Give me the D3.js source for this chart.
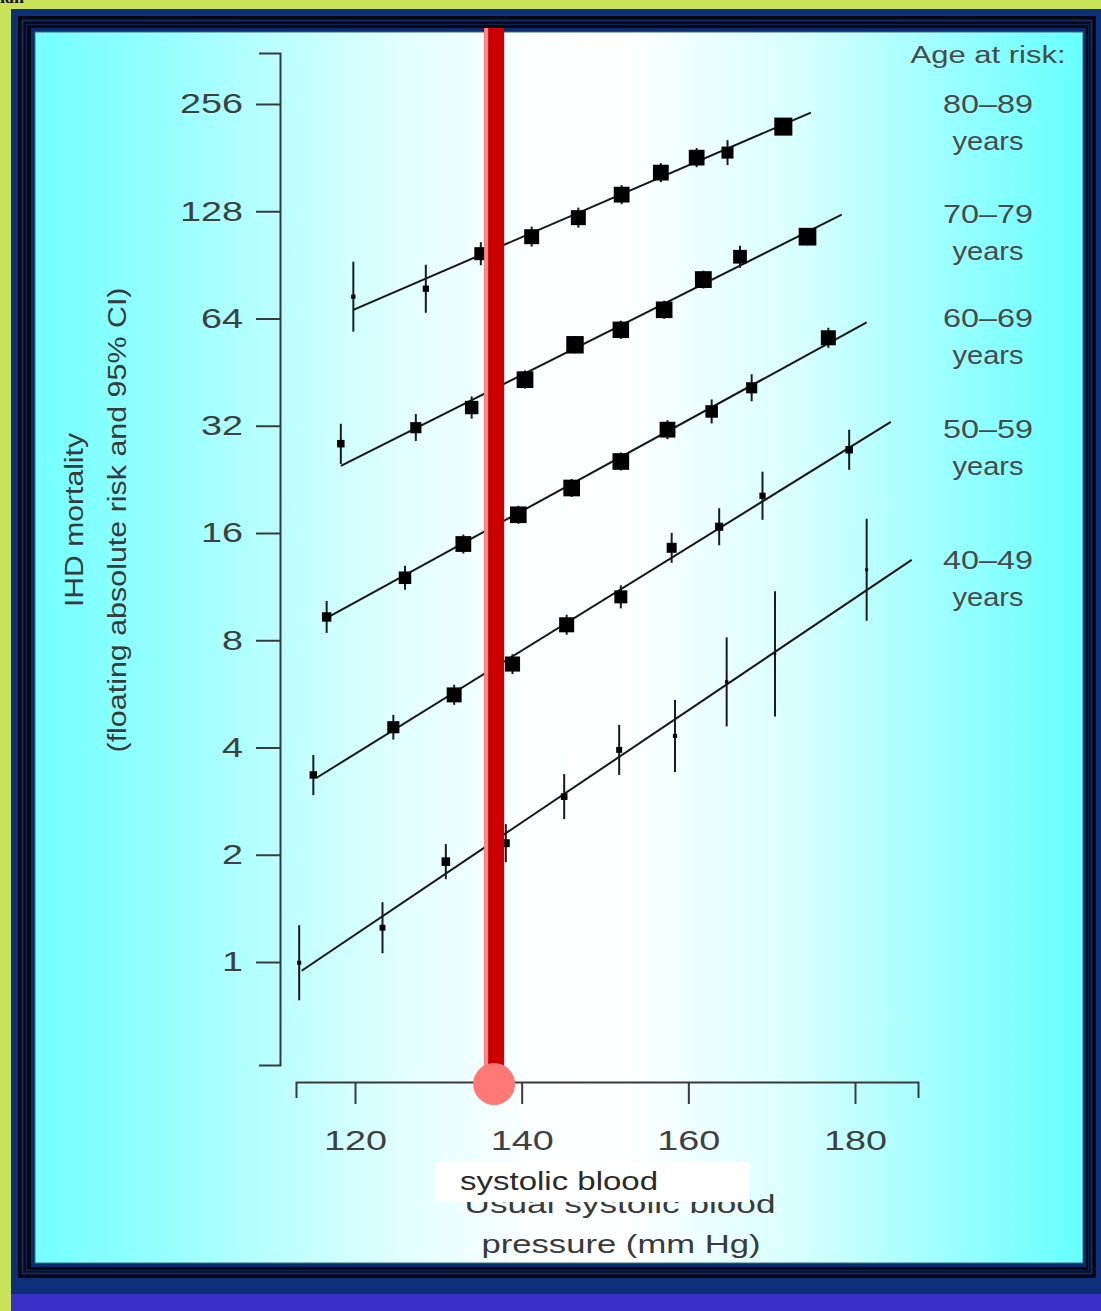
<!DOCTYPE html>
<html>
<head>
<meta charset="utf-8">
<script src="https://cdn.jsdelivr.net/npm/d3@7"></script>
<style>
  html, body { margin: 0; padding: 0; background: #c9e257; }
  svg { display: block; }
  text { font-family: "Liberation Sans", Arial, sans-serif; }
</style>
</head>
<body>
<div id="chart"></div>
<script>
// age groups, top to bottom
const ageGroups = ["80–89", "70–79", "60–69", "50–59", "40–49"];

// usual systolic blood pressure (mm Hg) of each point
const sbpByGroup = [
  [119.8, 128.5, 135.1, 141.2, 146.8, 152.0, 156.7, 161.0, 164.7, 171.4],
  [118.3, 127.3, 134.0, 140.4, 146.4, 151.9, 157.1, 161.8, 166.2, 174.3],
  [116.6, 126.0, 133.0, 139.6, 146.0, 151.9, 157.5, 162.8, 167.6, 176.8],
  [115.0, 124.6, 131.9, 138.9, 145.4, 151.9, 158.0, 163.7, 168.9, 179.3],
  [113.3, 123.3, 130.9, 138.1, 145.1, 151.7, 158.4, 164.6, 170.4, 181.4]
];

// IHD mortality (floating absolute risk)
const riskByGroup = [
  [73.7, 77.6, 97.3, 108.6, 122.8, 142.5, 164.3, 181.0, 187.0, 221.2],
  [28.5, 31.6, 36.0, 43.1, 54.0, 59.5, 67.7, 82.3, 95.4, 108.6],
  [9.30, 11.98, 14.9, 18.0, 21.4, 25.4, 31.2, 35.1, 40.9, 56.5],
  [3.35, 4.56, 5.62, 6.86, 8.84, 10.59, 14.54, 16.66, 20.35, 27.4],
  [0.995, 1.248, 1.913, 2.155, 2.912, 3.939, 4.311, 6.113, 7.327, 12.62]
];

// 95% CI
const lowByGroup = [
  [58.8, 66.4, 90.3, 101.8, 115.1, 134.0, 154.5, 170.2, 172.5, 209.6],
  [25.0, 29.0, 33.5, 40.7, 51.1, 56.1, 63.9, 77.7, 88.9, 102.8],
  [8.39, 11.09, 14.01, 16.98, 20.19, 23.96, 29.34, 32.48, 37.48, 52.96],
  [2.94, 4.21, 5.27, 6.43, 8.29, 9.83, 13.20, 14.78, 17.42, 24.07],
  [0.781, 1.058, 1.708, 1.906, 2.518, 3.351, 3.416, 4.585, 4.891, 9.075]
];
const highByGroup = [
  [92.4, 90.6, 104.8, 115.9, 131.0, 151.5, 174.7, 192.5, 202.7, 233.4],
  [32.4, 34.5, 38.7, 45.7, 57.1, 63.1, 71.8, 87.2, 102.4, 114.7],
  [10.31, 12.95, 15.84, 19.08, 22.68, 26.92, 33.17, 37.93, 44.63, 60.27],
  [3.81, 4.94, 6.00, 7.31, 9.43, 11.41, 16.02, 18.78, 23.77, 31.18],
  [1.268, 1.472, 2.142, 2.437, 3.368, 4.630, 5.441, 8.151, 10.98, 17.55]
];

// fitted lines (start, end)
const fitSBP = [[119.8, 174.7], [118.3, 178.4], [116.4, 181.4], [115.4, 184.3], [113.6, 186.8]];
const fitRisk = [[67.7, 242.2], [24.7, 125.2], [9.19, 62.4], [3.29, 32.8], [0.945, 13.45]];

const yTicks = [1, 2, 4, 8, 16, 32, 64, 128, 256];
const xTicks = [120, 140, 160, 180];
const markerSBP = 136.7; // red marker line

// layout
const W = 1101, H = 1311;
const legendBaselines = [113, 223, 327, 438, 569];

const svg = d3.select("#chart").append("svg")
    .attr("width", W)
    .attr("height", H);

const defs = svg.append("defs");
const grad = defs.append("linearGradient")
    .attr("id", "panelGrad")
    .attr("x1", "0").attr("x2", "1").attr("y1", "0").attr("y2", "0");
[[0, "#74ffff"], [0.11, "#92ffff"], [0.234, "#bdffff"], [0.35, "#e2ffff"],
 [0.47, "#fbffff"], [0.56, "#ffffff"], [0.73, "#d8ffff"], [0.83, "#adffff"], [1, "#66ffff"]]
  .forEach(s => grad.append("stop").attr("offset", s[0]).attr("stop-color", s[1]));

defs.append("filter").attr("id", "soft")
  .append("feGaussianBlur").attr("stdDeviation", 0.55);

// --- frame ---
svg.append("rect").attr("width", W).attr("height", H).attr("fill", "#c9e257");
svg.append("text")
    .attr("x", 0).attr("y", 3)
    .style("font-family", "'Liberation Serif', serif")
    .style("font-weight", "bold")
    .style("font-size", "18px")
    .attr("fill", "#111")
    .text("ian");
svg.append("rect").attr("x", 11).attr("y", 9).attr("width", 1090).attr("height", 1285).attr("fill", "#0b2f79");
svg.append("rect").attr("x", 11).attr("y", 1294).attr("width", 1090).attr("height", 17).attr("fill", "#3b2fc9");
svg.append("rect").attr("x", 18).attr("y", 16).attr("width", 1078).attr("height", 1262).attr("fill", "#02060f");
svg.append("rect").attr("x", 22.5).attr("y", 20.5).attr("width", 1069).attr("height", 1253)
    .attr("fill", "none").attr("stroke", "#112a60").attr("stroke-width", 2);
svg.append("rect").attr("x", 26.5).attr("y", 24.5).attr("width", 1062).attr("height", 1246)
    .attr("fill", "none").attr("stroke", "#0d2250").attr("stroke-width", 1.5);
svg.append("rect").attr("x", 31).attr("y", 28).attr("width", 1055).attr("height", 1239).attr("fill", "#0a2a6e");
svg.append("rect").attr("x", 35).attr("y", 32).attr("width", 1048).attr("height", 1231)
    .attr("fill", "url(#panelGrad)").attr("stroke", "#3d6f78").attr("stroke-width", 1);

// --- scales ---
const yRef = d3.scaleLog().base(2).domain([1, 256]).range([962, 104]);
const y = d3.scaleLog().base(2)
    .domain([yRef.invert(1065), yRef.invert(53)])
    .range([1065, 53]);

const xRef = d3.scaleLinear().domain([120, 180]).range([355, 855]);
const x = d3.scaleLinear()
    .domain([xRef.invert(296), xRef.invert(918)])
    .range([296, 918]);

const axisColor = "#3a3a3a";

// y axis
const yAxis = svg.append("g")
    .attr("transform", "translate(280,0)")
    .call(d3.axisLeft(y).tickValues(yTicks).tickFormat(d3.format("d"))
        .tickSizeInner(24).tickSizeOuter(21).tickPadding(13));
yAxis.select(".domain").attr("stroke", axisColor).attr("stroke-width", 2);
yAxis.selectAll(".tick line").attr("stroke", axisColor).attr("stroke-width", 2);
yAxis.selectAll(".tick text")
    .attr("fill", "#404040")
    .style("font-size", "28px")
    .attr("textLength", d => String(d).length * 21)
    .attr("lengthAdjust", "spacingAndGlyphs");

// x axis
const xAxis = svg.append("g")
    .attr("transform", "translate(0,1082)")
    .call(d3.axisBottom(x).tickValues(xTicks)
        .tickSizeInner(22).tickSizeOuter(16).tickPadding(26));
xAxis.select(".domain").attr("stroke", axisColor).attr("stroke-width", 2);
xAxis.selectAll(".tick line").attr("stroke", axisColor).attr("stroke-width", 2);
xAxis.selectAll(".tick text")
    .attr("fill", "#404040")
    .style("font-size", "28px")
    .attr("textLength", d => String(d).length * 21)
    .attr("lengthAdjust", "spacingAndGlyphs");

// --- data marks ---
const marks = svg.append("g").attr("filter", "url(#soft)");

const line = d3.line().x(d => x(d[0])).y(d => y(d[1]));

ageGroups.forEach((g, gi) => {
    const fit = fitSBP[gi].map((s, k) => [s, fitRisk[gi][k]]);
    marks.append("path")
        .attr("d", line(fit))
        .attr("fill", "none")
        .attr("stroke", "#151515")
        .attr("stroke-width", 2);

    const pts = sbpByGroup[gi].map((s, k) => ({
        sbp: s,
        risk: riskByGroup[gi][k],
        lo: lowByGroup[gi][k],
        hi: highByGroup[gi][k]
    }));

    marks.append("g").selectAll("line")
        .data(pts)
        .enter()
        .append("line")
        .attr("x1", d => x(d.sbp))
        .attr("x2", d => x(d.sbp))
        .attr("y1", d => y(d.lo))
        .attr("y2", d => y(d.hi))
        .attr("stroke", "#1a1a1a")
        .attr("stroke-width", 2);

    // square side inversely proportional to CI width
    const side = d => Math.max(2.5, Math.min(19, 300 / (y(d.lo) - y(d.hi))));
    marks.append("g").selectAll("rect")
        .data(pts)
        .enter()
        .append("rect")
        .attr("x", d => x(d.sbp) - side(d) / 2)
        .attr("y", d => y(d.risk) - side(d) / 2)
        .attr("width", side)
        .attr("height", side)
        .attr("fill", "#050505");
});

// --- red marker ---
const mx = x(markerSBP);
svg.append("rect")
    .attr("x", mx - 10).attr("y", 28)
    .attr("width", 20).attr("height", 1084 - 28)
    .attr("fill", "#cc0000");
svg.append("rect")
    .attr("x", mx - 10).attr("y", 28)
    .attr("width", 4).attr("height", 1084 - 28)
    .attr("fill", "#ff8a8a");
svg.append("circle")
    .attr("cx", mx).attr("cy", 1084).attr("r", 21)
    .attr("fill", "#ff7878");

// --- legend ---
const legendX = 988;
svg.append("text")
    .attr("x", legendX).attr("y", 63)
    .attr("text-anchor", "middle")
    .attr("fill", "#4a4a4a")
    .style("font-size", "23px")
    .attr("textLength", 155).attr("lengthAdjust", "spacingAndGlyphs")
    .text("Age at risk:");

ageGroups.forEach((g, gi) => {
    svg.append("text")
        .attr("x", legendX).attr("y", legendBaselines[gi])
        .attr("text-anchor", "middle")
        .attr("fill", "#4a4a4a")
        .style("font-size", "26px")
        .attr("textLength", 90).attr("lengthAdjust", "spacingAndGlyphs")
        .text(g);
    svg.append("text")
        .attr("x", legendX).attr("y", legendBaselines[gi] + 37)
        .attr("text-anchor", "middle")
        .attr("fill", "#4a4a4a")
        .style("font-size", "26px")
        .attr("textLength", 71).attr("lengthAdjust", "spacingAndGlyphs")
        .text("years");
});

// --- axis titles ---
svg.append("text")
    .attr("transform", "translate(83,520) rotate(-90)")
    .attr("text-anchor", "middle")
    .attr("fill", "#3a3a3a")
    .style("font-size", "26px")
    .attr("textLength", 174).attr("lengthAdjust", "spacingAndGlyphs")
    .text("IHD mortality");
svg.append("text")
    .attr("transform", "translate(126,520) rotate(-90)")
    .attr("text-anchor", "middle")
    .attr("fill", "#3a3a3a")
    .style("font-size", "26px")
    .attr("textLength", 465).attr("lengthAdjust", "spacingAndGlyphs")
    .text("(floating absolute risk and 95% CI)");

svg.append("text")
    .attr("x", 620).attr("y", 1213)
    .attr("text-anchor", "middle")
    .attr("fill", "#3a3a3a")
    .style("font-size", "26px")
    .attr("textLength", 311).attr("lengthAdjust", "spacingAndGlyphs")
    .text("Usual systolic blood");
svg.append("text")
    .attr("x", 621).attr("y", 1253)
    .attr("text-anchor", "middle")
    .attr("fill", "#3a3a3a")
    .style("font-size", "26px")
    .attr("textLength", 279).attr("lengthAdjust", "spacingAndGlyphs")
    .text("pressure (mm Hg)");

// white label pasted over the title
svg.append("rect")
    .attr("x", 435).attr("y", 1162)
    .attr("width", 315).attr("height", 40)
    .attr("fill", "#ffffff");
svg.append("text")
    .attr("x", 460).attr("y", 1190)
    .attr("fill", "#2a2a2a")
    .style("font-size", "26px")
    .attr("textLength", 198).attr("lengthAdjust", "spacingAndGlyphs")
    .text("systolic blood");
</script>
</body>
</html>
